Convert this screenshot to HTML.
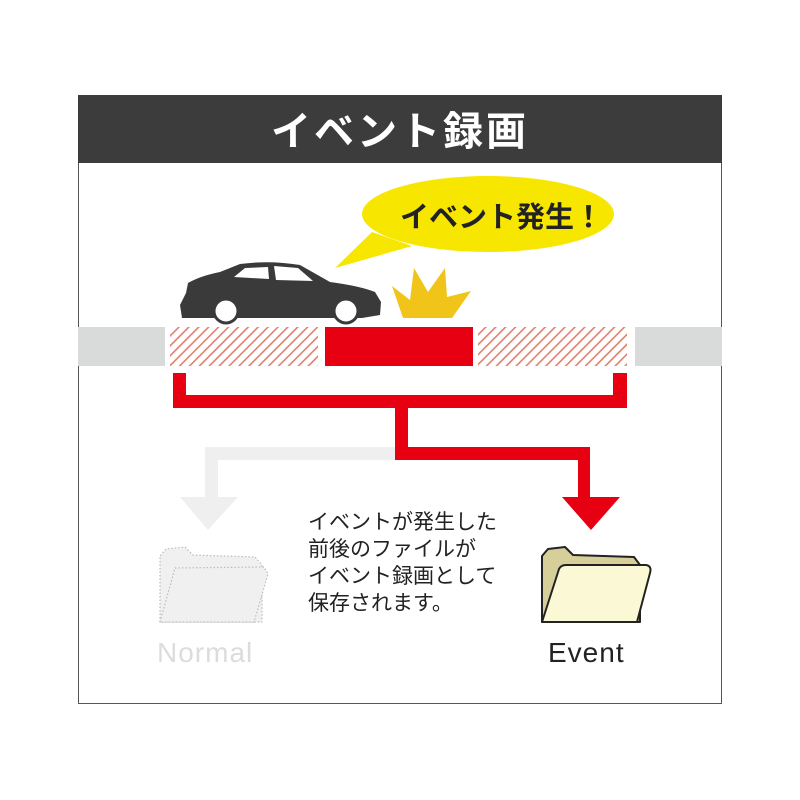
<!DOCTYPE html>
<html><head><meta charset="utf-8"><style>
html,body{margin:0;padding:0;background:#fff;width:800px;height:800px;overflow:hidden}
svg text{font-family:"Liberation Sans","Noto Sans CJK JP",sans-serif}
</style></head><body>
<svg width="800" height="800" viewBox="0 0 800 800" xmlns="http://www.w3.org/2000/svg">
<defs>
<pattern id="h" width="7" height="7" patternUnits="userSpaceOnUse" patternTransform="rotate(45)">
<rect width="7" height="7" fill="#fff"/>
<rect width="1.6" height="7" fill="#e0806e"/>
</pattern>
</defs>
<rect x="78.5" y="95.5" width="643" height="608" fill="#fff" stroke="#555" stroke-width="1"/>
<rect x="78" y="95" width="644" height="68" fill="#3c3c3c"/>
<text x="400" y="145" fill="#fff" font-size="40" font-weight="bold" text-anchor="middle" letter-spacing="3">イベント録画</text>

<path d="M372 232 L335 268 L412 246 Z" fill="#f7e600"/>
<ellipse cx="488" cy="214" rx="126" ry="38" fill="#f7e600"/>
<text x="400" y="227" font-size="29" font-weight="bold" fill="#222">イベント発生！</text>

<path d="M392 286 L410 300 L414 268 L428 292 L445 268 L447 297 L471 291 L452 318 L403 318 Z" fill="#f0c419"/>

<g fill="#3a3a3a">
<path d="M186 293 L188 283 Q200 276 220 272 L240 264 Q270 260 300 265 L330 282 Q360 286 375 292 L381 302 L380 315 L362 318 L182 318 L180 305 Z"/>
</g>
<path d="M234 277 L245 268 L268 267 L269 279 Z" fill="#fff"/>
<path d="M274 266 L298 268 L313 281 L276 280 Z" fill="#fff"/>
<circle cx="226" cy="311" r="12" fill="#fff" stroke="#3a3a3a" stroke-width="3"/>
<circle cx="346" cy="311" r="12" fill="#fff" stroke="#3a3a3a" stroke-width="3"/>

<rect x="78" y="327" width="644" height="39" fill="#d9dbdb"/>
<rect x="165" y="327" width="470" height="39" fill="#fff"/>
<rect x="170" y="327" width="148" height="39" fill="url(#h)"/>
<rect x="478" y="327" width="149" height="39" fill="url(#h)"/>
<rect x="325" y="327" width="148" height="39" fill="#e60012"/>

<path d="M395 447 L205 447 L205 497 L180 497 L208 530 L238 497 L218 497 L218 460 L395 460 Z" fill="#efefef"/>

<path d="M173 373 L186 373 L186 395 L613 395 L613 373 L627 373 L627 408 L408 408 L408 447 L590 447 L590 497 L620 497 L591 530 L562 497 L578 497 L578 460 L395 460 L395 408 L173 408 Z" fill="#e60012"/>

<g font-size="21" fill="#222">
<text x="308" y="529">イベントが発生した</text>
<text x="308" y="556">前後のファイルが</text>
<text x="308" y="583">イベント録画として</text>
<text x="308" y="610">保存されます。</text>
</g>

<g fill="#f0f0f0" stroke="#bbb" stroke-width="1.2" stroke-dasharray="1.5 2">
<path d="M160 622 L160 556 L166 549 L185 547 L193 555 L255 557 L262 565 L262 622 Z"/>
<path d="M160 622 L175 568 L264 567 L268 574 L254 622 Z"/>
</g>
<text x="157" y="662" font-size="28" fill="#dcdcdc" letter-spacing="1">Normal</text>

<g stroke="#222" stroke-width="2" stroke-linejoin="round">
<path d="M542 622 L542 556 L548 549 L565 547 L573 555 L634 557 L640 565 L640 622 Z" fill="#d6cf9a"/>
<path d="M542 622 L559 569 Q561 565 566 565 L646 565 Q652 566 650 573 L637 622 Z" fill="#fbf8d6"/>
</g>
<text x="548" y="662" font-size="28" fill="#222" letter-spacing="1">Event</text>
</svg>
</body></html>
